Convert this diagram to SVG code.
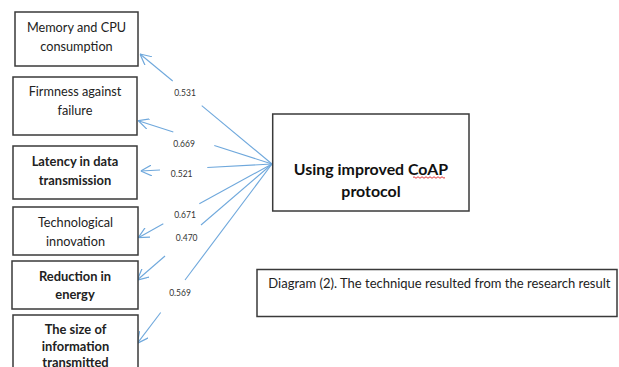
<svg xmlns="http://www.w3.org/2000/svg" width="619" height="367" viewBox="0 0 619 367">
<style>
.box{fill:#fff;stroke:#3a3a3a;stroke-width:1.5}
.t{font-family:Lato,"Open Sans","Liberation Sans",sans-serif;font-size:12.7px;fill:#222;text-anchor:middle}
.b{font-weight:bold;font-size:12.9px}
.lbl{font-family:Lato,"Liberation Sans",sans-serif;font-size:8.5px;fill:#333;text-anchor:middle}
.ln{stroke:#6fa8dc;stroke-width:1.1;fill:none}
.main{font-family:Lato,"Open Sans","Liberation Sans",sans-serif;font-size:15.9px;font-weight:bold;fill:#111;text-anchor:middle}
.cap{font-family:Lato,"Open Sans","Liberation Sans",sans-serif;font-size:13px;fill:#222}
</style>
<defs>
<marker id="ah" viewBox="0 0 10 10" refX="10" refY="5" markerWidth="11" markerHeight="11" markerUnits="userSpaceOnUse" orient="auto">
<path d="M0,0 L10,5 L0,10" fill="none" stroke="#6fa8dc" stroke-width="1.1"/>
</marker>
</defs>
<rect width="619" height="367" fill="#fff"/>
<g id="connectors">
<line class="ln" x1="172.7" y1="81" x2="140" y2="54" marker-end="url(#ah)"/>
<line class="ln" x1="201.7" y1="105.7" x2="272" y2="164"/>
<line class="ln" x1="173.3" y1="132" x2="138.3" y2="120.7" marker-end="url(#ah)"/>
<line class="ln" x1="214.3" y1="145.5" x2="272" y2="164"/>
<line class="ln" x1="160" y1="170" x2="140.7" y2="171" marker-end="url(#ah)"/>
<line class="ln" x1="207.3" y1="167.5" x2="272" y2="164"/>
<line class="ln" x1="163.3" y1="223.7" x2="138.3" y2="237.7" marker-end="url(#ah)"/>
<line class="ln" x1="199.3" y1="203.7" x2="272" y2="164"/>
<line class="ln" x1="165" y1="256" x2="137.3" y2="280" marker-end="url(#ah)"/>
<line class="ln" x1="201" y1="225" x2="272" y2="164"/>
<line class="ln" x1="160.7" y1="312.5" x2="137.3" y2="343.3" marker-end="url(#ah)"/>
<line class="ln" x1="185" y1="280" x2="272" y2="164"/>
<text class="lbl" x="185" y="95.5">0.531</text>
<text class="lbl" x="184" y="147">0.669</text>
<text class="lbl" x="181.7" y="177">0.521</text>
<text class="lbl" x="185" y="218">0.671</text>
<text class="lbl" x="186.7" y="241.3">0.470</text>
<text class="lbl" x="180" y="296.3">0.569</text>
</g>
<g id="n1">
<rect class="box" x="15" y="12" width="123" height="54"/>
<text class="t" x="76.5" y="31.5">Memory and CPU</text>
<text class="t" x="76.5" y="50.5">consumption</text>
</g>
<g id="n2">
<rect class="box" x="13" y="77" width="124" height="58"/>
<text class="t" x="75" y="96">Firmness against</text>
<text class="t" x="75" y="115">failure</text>
</g>
<g id="n3">
<rect class="box" x="13" y="146" width="124" height="53"/>
<text class="t b" x="75" y="166">Latency in data</text>
<text class="t b" x="75" y="184.5">transmission</text>
</g>
<g id="n4">
<rect class="box" x="13" y="207" width="125" height="48"/>
<text class="t" x="75.5" y="226.5">Technological</text>
<text class="t" x="75.5" y="246">innovation</text>
</g>
<g id="n5">
<rect class="box" x="12" y="261" width="126" height="48"/>
<text class="t b" x="75" y="280.5">Reduction in</text>
<text class="t b" x="75" y="299">energy</text>
</g>
<g id="n6">
<rect class="box" x="13" y="315" width="125" height="60"/>
<text class="t b" x="75.5" y="333.5">The size of</text>
<text class="t b" x="75.5" y="350.5">information</text>
<text class="t b" x="75.5" y="366.5">transmitted</text>
</g>
<g id="main">
<rect class="box" x="272.7" y="114" width="196.3" height="97"/>
<text class="main" x="371" y="175">Using improved CoAP</text>
<text class="main" x="371" y="196.7">protocol</text>
<path d="M413,177.5 q1,-1.5 2,0 t2,0 t2,0 t2,0 t2,0 t2,0 t2,0 t2,0 t2,0 t2,0 t2,0 t2,0 t2,0 t2,0 t2,0 t2,0" fill="none" stroke="#e02020" stroke-width="0.9"/>
</g>
<g id="caption">
<rect class="box" x="257" y="269.5" width="360" height="47"/>
<text class="cap" x="268.3" y="288.3">Diagram (2). The technique resulted from the research result</text>
</g>
</svg>
